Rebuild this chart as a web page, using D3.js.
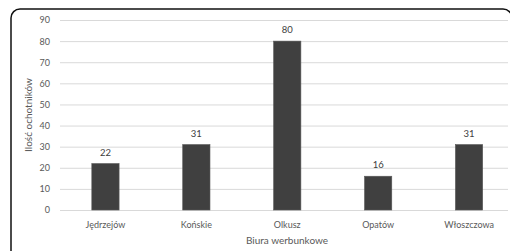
<!DOCTYPE html>
<html><head><meta charset="utf-8">
<script src="https://cdn.jsdelivr.net/npm/d3@7"></script>
<style>html,body{margin:0;padding:0;background:#fff;overflow:hidden}</style>
</head><body>
<svg id="c" width="510" height="251"></svg>
<script>
const categories = ["Jędrzejów", "Końskie", "Olkusz", "Opatów", "Włoszczowa"];
const values = [22, 31, 80, 16, 31];
const yTicks = [0, 10, 20, 30, 40, 50, 60, 70, 80, 90];
const yTitle = "Ilość ochotników";
const xTitle = "Biura werbunkowe";

(function () {
const svg = d3.select("#c");
const font = "Lato, 'Open Sans', sans-serif";
const pL = 60, pR = 514.5, pT = 20, pB = 210;

svg.append("rect").attr("x", 11).attr("y", 9).attr("width", 501).attr("height", 260)
  .attr("rx", 9).attr("fill", "#fff").attr("stroke", "#111").attr("stroke-width", 1.5);

const x = d3.scaleBand().domain(categories).range([pL, pR]).paddingInner(0.7).paddingOuter(0.35);
const y = d3.scaleLinear().domain([0, 90]).range([pB, pT]);

const ga = svg.append("g").attr("transform", `translate(${pL},0)`)
  .call(d3.axisLeft(y).tickValues(yTicks).tickSize(-(508 - pL)).tickPadding(10));
ga.select(".domain").remove();
ga.selectAll(".tick line").attr("stroke", "#d9d9d9").attr("stroke-width", 1);
ga.selectAll(".tick text").attr("fill", "#595959").style("font-family", font).style("font-size", "9px");

svg.append("g").selectAll("rect").data(values).join("rect")
  .attr("x", (d, i) => x(categories[i]))
  .attr("width", x.bandwidth())
  .attr("y", d => y(d))
  .attr("height", d => y(0) - y(d))
  .attr("fill", "#404040").attr("stroke", "#595959").attr("stroke-width", 0.6);

svg.append("g").selectAll("text").data(values).join("text")
  .attr("x", (d, i) => x(categories[i]) + x.bandwidth() / 2)
  .attr("y", d => y(d) - 8)
  .attr("text-anchor", "middle").attr("fill", "#404040")
  .style("font-family", font).style("font-size", "9.5px")
  .text(d => d);

svg.append("g").selectAll("text").data(categories).join("text")
  .attr("x", d => x(d) + x.bandwidth() / 2)
  .attr("y", 228)
  .attr("text-anchor", "middle").attr("fill", "#595959")
  .style("font-family", font).style("font-size", "9px")
  .text(d => d);

svg.append("text").attr("x", 287).attr("y", 244).attr("text-anchor", "middle")
  .attr("fill", "#595959").style("font-family", font).style("font-size", "10px").text(xTitle);

svg.append("text").attr("transform", "translate(32,115) rotate(-90)").attr("text-anchor", "middle")
  .attr("fill", "#595959").style("font-family", font).style("font-size", "10px").text(yTitle);
})();
</script>
</body></html>
